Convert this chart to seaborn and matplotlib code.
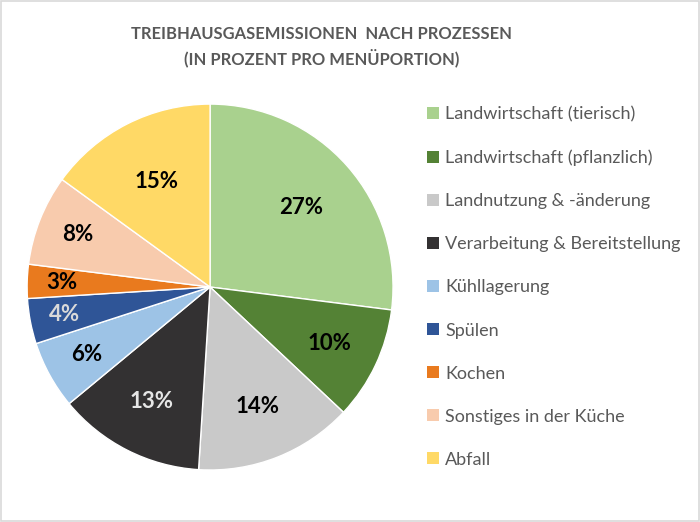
import matplotlib
matplotlib.use("Agg")
import matplotlib.pyplot as plt
import seaborn as sns
import numpy as np
from matplotlib.patches import Patch, Rectangle

sns.set_theme(style="white")
plt.rcParams['font.family'] = ['Lato', 'DejaVu Sans']

categories = ["Landwirtschaft (tierisch)", "Landwirtschaft (pflanzlich)",
              "Landnutzung & -änderung", "Verarbeitung & Bereitstellung",
              "Kühllagerung", "Spülen", "Kochen", "Sonstiges in der Küche", "Abfall"]
values = [27, 10, 14, 13, 6, 4, 3, 8, 15]
pct_labels = ["27%", "10%", "14%", "13%", "6%", "4%", "3%", "8%", "15%"]

colors = ["#A9D18E", "#548235", "#C9C9C9", "#333132", "#9DC3E6",
          "#2F5597", "#E97A1E", "#F8CBAD", "#FFD966"]
label_colors = ["black", "black", "black", "#E6E6E6", "black", "#D9D9D9",
                "black", "black", "black"]
label_dist = [0.66, 0.72, 0.70, 0.70, 0.77, 0.81, 0.81, 0.78, 0.65]

fig = plt.figure(figsize=(7, 5.22), dpi=100)
ax = fig.add_axes([0.0386, 0.0996, 0.523, 0.701])
wedges, _ = ax.pie(values, colors=colors, startangle=90, counterclock=False,
                   wedgeprops=dict(edgecolor="white", linewidth=1.0))
ax.set_xlim(-1.0, 1.0)
ax.set_ylim(-1.0, 1.0)
ax.set_aspect("equal")
ax.axis("off")

for w, lab, c, d in zip(wedges, pct_labels, label_colors, label_dist):
    ang = np.deg2rad((w.theta1 + w.theta2) / 2)
    ax.text(d * np.cos(ang), d * np.sin(ang), lab, ha="center", va="center",
            fontsize=16, fontweight="bold", color=c)

fig.text(0.459, 0.910, "TREIBHAUSGASEMISSIONEN  NACH PROZESSEN\n(IN PROZENT PRO MENÜPORTION)",
         ha="center", va="center", fontsize=11.9, fontweight="bold", color="#595959",
         linespacing=1.4)

handles = [Patch(facecolor=c, edgecolor="none") for c in colors]
leg = fig.legend(handles, categories, loc="upper left", bbox_to_anchor=(0.600, 0.810),
                 frameon=False, fontsize=13, labelcolor="#595959",
                 handlelength=0.65, handleheight=0.65, handletextpad=0.35,
                 labelspacing=1.5, borderaxespad=0)

fig.add_artist(Rectangle((0.001, 0.001), 0.997, 0.997, transform=fig.transFigure,
                         fill=False, edgecolor="#D9D9D9", linewidth=1.2))

fig.savefig("out.png", dpi=100)
